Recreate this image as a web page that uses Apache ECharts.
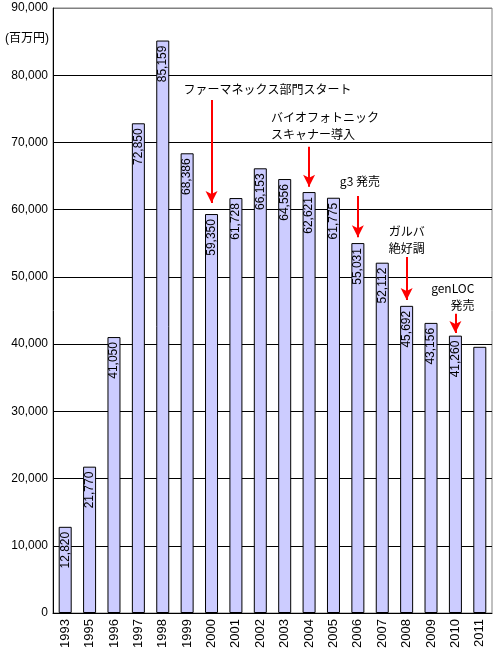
<!DOCTYPE html>
<html><head><meta charset="utf-8">
<script src="https://cdn.jsdelivr.net/npm/echarts@6/dist/echarts.min.js"></script>
<style>html,body{margin:0;padding:0;background:#fff}#c{width:496px;height:655px}</style>
</head><body><div id="c"></div>
<script>
var categories = ['1993','1995','1996','1997','1998','1999','2000','2001','2002','2003','2004','2005','2006','2007','2008','2009','2010','2011'];
var sales = [12820,21770,41050,72850,85159,68386,59350,61728,66153,64556,62621,61775,55031,52112,45692,43156,41260,39600];
var valueLabels = ['12,820','21,770','41,050','72,850','85,159','68,386','59,350','61,728','66,153','64,556','62,621','61,775','55,031','52,112','45,692','43,156','41,260',''];
var yTicks = [0,10000,20000,30000,40000,50000,60000,70000,80000,90000];
var unitLabel = '(百万円)';
// annotations
var noteCats = ['2000','2004','2006','2008','2010'];
var noteTexts = ['ファーマネックス部門スタート','バイオフォトニック\nスキャナー導入','g3 発売','ガルバ\n絶好調','genLOC\n発売'];
var noteTextValues = [77950,72500,64150,55550,46950];
var arrowFrom = [76300,69350,62050,52950,44500];
var arrowTo = [61000,63400,55900,46550,41650];
var noteAlign = ['center','left','left','left','right'];
var noteOffsetX = [56,-38,-18,-18,19];

var JP = '"Noto Sans CJK JP", "Liberation Sans", sans-serif';
var NUM = '"Liberation Sans", Arial, sans-serif';
var MIX = '"Liberation Sans", "Noto Sans CJK JP", sans-serif';

var chart = echarts.init(document.getElementById('c'), null, {renderer:'canvas'});
var splitColors = yTicks.map(function(v,i){ return i === yTicks.length-1 ? '#808080' : '#000'; });

chart.setOption({
  animation:false,
  backgroundColor:'#fff',
  title:{ text:unitLabel, left:0, top:28, padding:[5,5,5,5], textStyle:{fontSize:12, fontWeight:'normal', color:'#000', fontFamily:MIX} },
  grid:{ left:53, right:4, top:8, bottom:42, show:true, borderColor:'#808080', borderWidth:1, backgroundColor:'transparent' },
  xAxis:{
    type:'category', data:categories,
    axisLine:{ lineStyle:{color:'#000', width:1} },
    axisTick:{ inside:true, length:4, lineStyle:{color:'#000'} },
    axisLabel:{ rotate:90, margin:6, fontSize:13, color:'#000', fontFamily:NUM, interval:0 }
  },
  yAxis:{
    type:'value', min:0, max:90000, interval:10000,
    axisLine:{ show:true, lineStyle:{color:'#000'} },
    axisTick:{ show:false },
    splitLine:{ show:true, lineStyle:{ color:splitColors, width:1 } },
    axisLabel:{ fontSize:12, color:'#000', fontFamily:NUM, margin:5,
      formatter:function(v){ return v.toLocaleString('en-US'); } }
  },
  series:[{
    type:'bar', data:sales, barWidth:13,
    itemStyle:{ color:'#CCCCFF', borderColor:'#000', borderWidth:1 },
    label:{ show:true, position:'insideTop', rotate:90, align:'right', verticalAlign:'middle', distance:5,
      fontSize:12, color:'#000', fontFamily:NUM,
      formatter:function(p){ return valueLabels[p.dataIndex]; } },
    markLine:{
      silent:true, symbol:['none','arrow'], symbolSize:[9,12],
      lineStyle:{ color:'#ff0000', width:2, type:'solid' },
      label:{ show:false },
      data: noteCats.map(function(c,i){ return [{coord:[c, arrowFrom[i]]},{coord:[c, arrowTo[i]]}]; })
    },
    markPoint:{
      silent:true, symbol:'circle', symbolSize:1,
      itemStyle:{ color:'rgba(0,0,0,0)' },
      data: noteCats.map(function(c,i){
        return { coord:[c, noteTextValues[i]],
          label:{ show:true, position:'inside', formatter:noteTexts[i], align:noteAlign[i], verticalAlign:'middle',
            offset:[noteOffsetX[i],0], fontSize:12, lineHeight:17, color:'#000', fontFamily:JP } };
      })
    }
  }]
});
</script></body></html>
